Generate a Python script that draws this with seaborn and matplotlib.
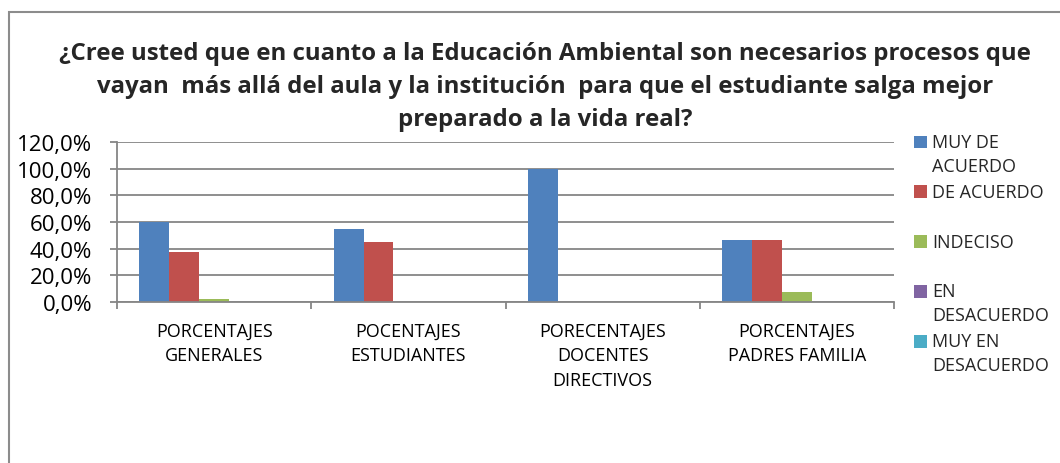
import matplotlib
matplotlib.use("Agg")
import matplotlib.pyplot as plt
from matplotlib.patches import Rectangle
from matplotlib.ticker import FuncFormatter, FixedLocator
import seaborn as sns
import pandas as pd
import numpy as np

# ---- data ----
categories = [
    "PORCENTAJES\nGENERALES",
    "POCENTAJES\nESTUDIANTES",
    "PORECENTAJES\nDOCENTES\nDIRECTIVOS",
    "PORCENTAJES\nPADRES FAMILIA",
]
series = ["MUY DE\nACUERDO", "DE ACUERDO", "INDECISO", "EN\nDESACUERDO", "MUY EN\nDESACUERDO"]
muy_de_acuerdo = [0.600, 0.550, 1.000, 0.462]
de_acuerdo = [0.375, 0.450, 0.000, 0.462]
indeciso = [0.025, 0.000, 0.000, 0.077]
en_desacuerdo = [0.0, 0.0, 0.0, 0.0]
muy_en_desacuerdo = [0.0, 0.0, 0.0, 0.0]
yticks = [0.0, 0.2, 0.4, 0.6, 0.8, 1.0, 1.2]
title = ("¿Cree usted que en cuanto a la Educación Ambiental son necesarios procesos que\n"
         "vayan  más allá del aula y la institución  para que el estudiante salga mejor\n"
         "preparado a la vida real?")

colors = ["#4F81BD", "#C0504D", "#9BBB59", "#8064A2", "#4BACC6"]

values = [muy_de_acuerdo, de_acuerdo, indeciso, en_desacuerdo, muy_en_desacuerdo]
rows = []
for s, vals in zip(series, values):
    for c, v in zip(categories, vals):
        rows.append({"cat": c, "serie": s, "val": v})
df = pd.DataFrame(rows)

sns.set_theme(style="white")
plt.rcParams["font.family"] = ["Open Sans", "DejaVu Sans"]

fig = plt.figure(figsize=(10.6, 4.64), dpi=100)
W, H = 1060, 464
ax = fig.add_axes([117 / W, 1 - 303 / H, (894 - 117) / W, (303 - 143) / H])

sns.barplot(data=df, x="cat", y="val", hue="serie", order=categories, hue_order=series,
            palette=colors, saturation=1, width=5 / 6.5, gap=0, ax=ax,
            edgecolor="none", linewidth=0, errorbar=None)

gray = "#868686"
ax.set_ylim(0, 1.2)
ax.set_xlim(-0.5, len(categories) - 0.5)
ax.set_yticks(yticks)
ax.yaxis.set_major_formatter(FuncFormatter(lambda v, p: f"{v * 100:.1f}%".replace(".", ",")))
ax.yaxis.grid(True, color=gray, lw=1.3)
ax.set_axisbelow(True)
ax.set_xlabel("")
ax.set_ylabel("")
for sp in ["top", "right"]:
    ax.spines[sp].set_visible(False)
for sp in ["left", "bottom"]:
    ax.spines[sp].set_color(gray)
    ax.spines[sp].set_linewidth(1.3)

ax.tick_params(axis="y", which="major", length=5, width=1.3, color=gray, pad=13,
               labelsize=16, labelcolor="black", left=True)
ax.xaxis.set_minor_locator(FixedLocator(np.arange(-0.5, len(categories), 1.0)))
ax.tick_params(axis="x", which="minor", length=5, width=1.3, color=gray, bottom=True)
ax.tick_params(axis="x", which="major", length=0, pad=14, labelsize=13, labelcolor="black")
for t in ax.get_xticklabels():
    t.set_linespacing(1.5)
    t.set_ha("center")

# legend
handles, labels = ax.get_legend_handles_labels()
if ax.get_legend() is not None:
    ax.get_legend().remove()
labels2 = [l if "\n" in l else l + "\n" for l in labels]
fs = 13
ls = 1.4
leg = fig.legend(handles, labels2, loc="upper left", bbox_to_anchor=(914 / W, 1 - 134 / H),
                 frameon=False, fontsize=fs, handlelength=0.72, handleheight=0.72,
                 handletextpad=0.3, labelspacing=0.455, borderpad=0, borderaxespad=0)
for t in leg.get_texts():
    t.set_linespacing(ls)
for p in leg.get_patches():
    p.set_y(p.get_y() + 9.0)

# title
fig.text(545 / W, 1 - 87 / H, title, ha="center", va="center", fontsize=17.3,
         fontweight="bold", linespacing=1.5)

# chart border (extends past figure edges)
fig.patches.append(Rectangle((9 / W, -0.1), 1.2, 1 - 13 / H + 0.1, transform=fig.transFigure,
                             fill=False, edgecolor="#8c8c8c", lw=1.5))

fig.savefig("out.png", dpi=100)
